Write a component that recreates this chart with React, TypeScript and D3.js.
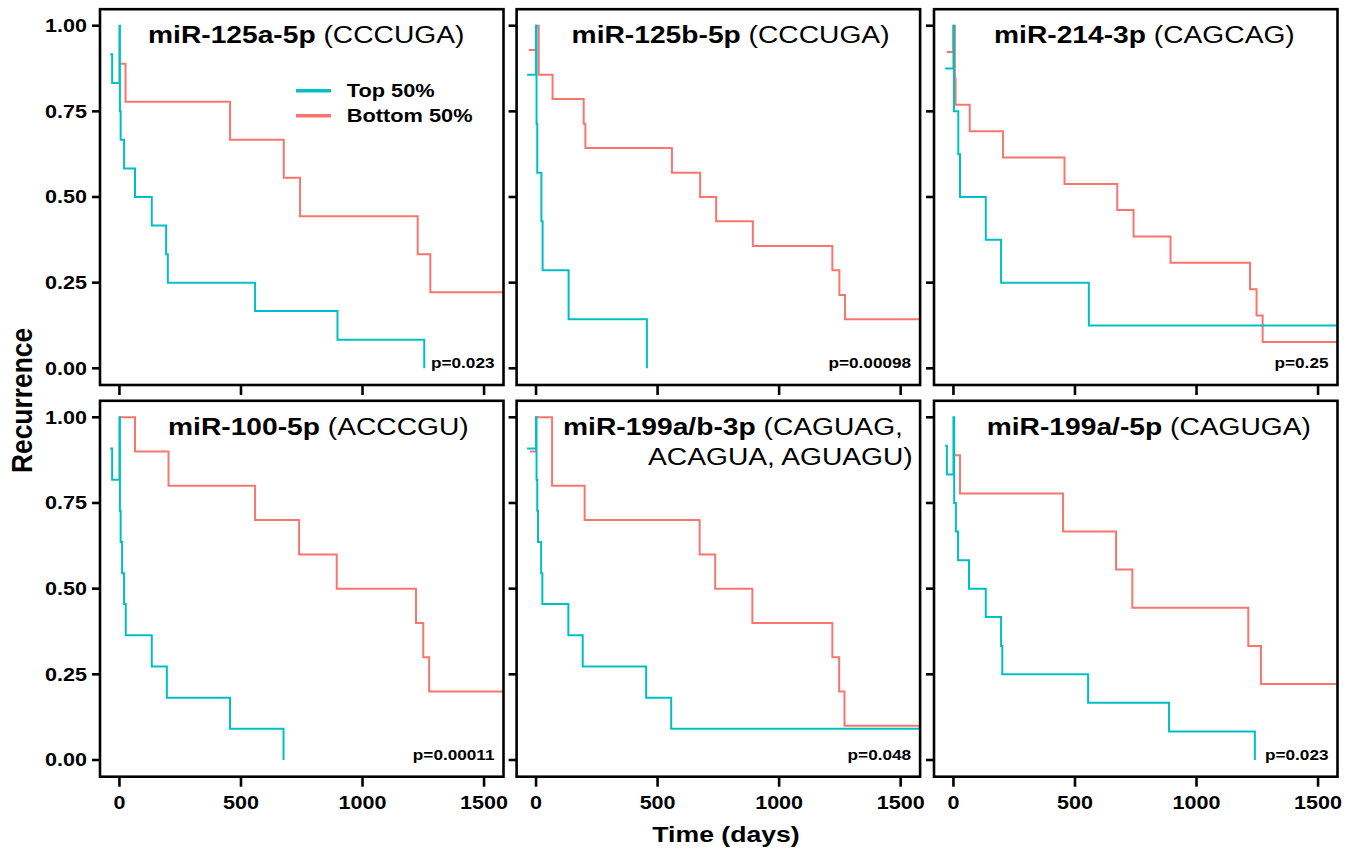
import React from 'react';
import * as d3 from 'd3';

// Kaplan-Meier style recurrence curves, one [day, recurrence] list per group
const top125a = [[-38, 0.917], [-30, 0.833], [0, 1], [2, 0.75], [5, 0.667], [19, 0.583], [64, 0.5], [133, 0.417], [192, 0.333], [199, 0.25], [558, 0.167], [897, 0.083], [1254, 0]];
const bottom125a = [[5, 0.889], [25, 0.778], [455, 0.667], [676, 0.556], [743, 0.444], [1227, 0.333], [1279, 0.222], [1600, 0.222]];

const top125b = [[-37, 0.857], [0, 1], [2, 0.714], [5, 0.571], [22, 0.429], [27, 0.286], [134, 0.143], [456, 0]];
const bottom125b = [[-30, 0.929], [0, 1], [11, 0.857], [68, 0.786], [196, 0.714], [203, 0.643], [559, 0.571], [675, 0.5], [741, 0.429], [892, 0.357], [1219, 0.286], [1248, 0.214], [1271, 0.143], [1600, 0.143]];

const top214 = [[-34, 0.875], [0, 1], [2, 0.75], [20, 0.625], [27, 0.5], [133, 0.375], [196, 0.25], [557, 0.125], [1600, 0.125]];
const bottom214 = [[-27, 0.923], [0, 1], [6, 0.846], [9, 0.769], [67, 0.692], [204, 0.615], [457, 0.538], [674, 0.462], [741, 0.385], [893, 0.308], [1220, 0.231], [1247, 0.154], [1272, 0.077], [1600, 0.077]];

const top100 = [[-38, 0.909], [-30, 0.818], [0, 1], [2, 0.727], [5, 0.636], [11, 0.545], [19, 0.455], [26, 0.364], [133, 0.273], [195, 0.182], [455, 0.091], [675, 0]];
const bottom100 = [[0, 1], [64, 0.9], [202, 0.8], [558, 0.7], [739, 0.6], [894, 0.5], [1220, 0.4], [1250, 0.3], [1274, 0.2], [1600, 0.2]];

const top199b = [[-37, 0.909], [0, 1], [2, 0.818], [5, 0.727], [8, 0.636], [21, 0.545], [26, 0.455], [133, 0.364], [192, 0.273], [453, 0.182], [556, 0.091], [1600, 0.091]];
const bottom199b = [[-25, 0.9], [0, 1], [66, 0.8], [200, 0.7], [673, 0.6], [737, 0.5], [890, 0.4], [1219, 0.3], [1247, 0.2], [1269, 0.1], [1600, 0.1]];

const top199a5 = [[-34, 0.917], [-27, 0.833], [0, 1], [3, 0.75], [10, 0.667], [19, 0.583], [64, 0.5], [133, 0.417], [196, 0.333], [201, 0.25], [554, 0.167], [887, 0.083], [1240, 0]];
const bottom199a5 = [[3, 0.889], [27, 0.778], [451, 0.667], [669, 0.556], [736, 0.444], [1213, 0.333], [1265, 0.222], [1600, 0.222]];

const topSeries = [top125a, top125b, top214, top100, top199b, top199a5];
const bottomSeries = [bottom125a, bottom125b, bottom214, bottom100, bottom199b, bottom199a5];

const mirNames = ['miR-125a-5p', 'miR-125b-5p', 'miR-214-3p', 'miR-100-5p', 'miR-199a/b-3p', 'miR-199a/-5p'];
const seeds = ['(CCCUGA)', '(CCCUGA)', '(CAGCAG)', '(ACCCGU)', '(CAGUAG,', '(CAGUGA)'];
const seedsLine2 = ['', '', '', '', 'ACAGUA, AGUAGU)', ''];
const pValues = ['p=0.023', 'p=0.00098', 'p=0.25', 'p=0.00011', 'p=0.048', 'p=0.023'];
const groupNames = ['Top 50%', 'Bottom 50%'];
const xTicks = [0, 500, 1000, 1500];
const yTicks = [0, 0.25, 0.5, 0.75, 1];

const CYAN = '#00BFC4';
const RED = '#F8766D';
const FONT = '"Liberation Sans", Arial, Helvetica, sans-serif';
const SX = 1.21; // picture is stretched horizontally

const colLeft = [100, 516.6, 934];
const panelW = 403.5;
const rowTop = [9.2, 400.8];
const rowBottom = [385, 776.7];
const yZero = [368.3, 760];
const yOne = [25.7, 417.3];
const titleDx = [48, 55, 60, 68, 46.4, 52.7];

const SText = ({ x, y, size, weight = 'bold', anchor = 'start', children }: any) => (
  <g transform={`translate(${x},${y}) scale(${SX},1)`}>
    <text fontSize={size} fontWeight={weight} textAnchor={anchor} fill="#000" fontFamily={FONT}>{children}</text>
  </g>
);

const Panel = ({ i }: { i: number }) => {
  const col = i % 3;
  const row = Math.floor(i / 3);
  const left = colLeft[col];
  const right = left + panelW;
  const x = d3.scaleLinear().domain([-80, 1580]).range([left, right]);
  const y = d3.scaleLinear().domain([0, 1]).range([yZero[row], yOne[row]]);
  const line = d3.line<number[]>().x(d => x(d[0])).y(d => y(d[1])).curve(d3.curveStepAfter);
  const fmt = d3.format('.2f');
  const top = rowTop[row];
  const bottom = rowBottom[row];
  return (
    <g>
      <defs>
        <clipPath id={`clip${i}`}>
          <rect x={left} y={top} width={panelW} height={bottom - top} />
        </clipPath>
      </defs>
      <g clipPath={`url(#clip${i})`} fill="none" strokeWidth={2}>
        <path d={line(bottomSeries[i]) || ''} stroke={RED} />
        <path d={line(topSeries[i]) || ''} stroke={CYAN} />
      </g>
      <rect x={left} y={top} width={panelW} height={bottom - top} fill="none" stroke="#000" strokeWidth={2.6} />
      {yTicks.map(t => (
        <g key={t}>
          <line x1={left - 8} x2={left} y1={y(t)} y2={y(t)} stroke="#000" strokeWidth={2.6} />
          {col === 0 && <SText x={left - 13} y={y(t) + 6.4} size={17.8} anchor="end">{fmt(t)}</SText>}
        </g>
      ))}
      {xTicks.map(t => (
        <g key={t}>
          <line x1={x(t)} x2={x(t)} y1={bottom} y2={bottom + 10} stroke="#000" strokeWidth={2.6} />
          {row === 1 && <SText x={x(t)} y={bottom + 32.5} size={17.8} anchor="middle">{t}</SText>}
        </g>
      ))}
      <SText x={left + titleDx[i]} y={top + 34} size={23.3}>
        <tspan fontWeight="bold">{mirNames[i]}</tspan>
        <tspan fontWeight="normal">{' ' + seeds[i]}</tspan>
      </SText>
      {seedsLine2[i] && (
        <SText x={left + 131.4} y={top + 64.5} size={23.3} weight="normal">{seedsLine2[i]}</SText>
      )}
      <SText x={right - 9} y={bottom - 17} size={14.2} anchor="end">{pValues[i]}</SText>
      {i === 0 && groupNames.map((g, k) => (
        <g key={g}>
          <line x1={left + 196} x2={left + 231} y1={top + 81.5 + k * 25} y2={top + 81.5 + k * 25} stroke={k === 0 ? CYAN : RED} strokeWidth={3.4} />
          <SText x={left + 246.7} y={top + 81.5 + k * 25 + 6.5} size={18}>{g}</SText>
        </g>
      ))}
    </g>
  );
};

export default function App() {
  return (
    <svg width={1356} height={853} style={{ position: 'absolute', left: 0, top: 0, background: '#fff' }}>
      <rect width={1356} height={853} fill="#fff" />
      {mirNames.map((_, i) => <Panel key={i} i={i} />)}
      <g transform="translate(31.5,400.5) rotate(-90) scale(1.1,1.2)">
        <text fontSize={24} fontWeight="bold" textAnchor="middle" fontFamily={FONT}>Recurrence</text>
      </g>
      <SText x={726} y={841.5} size={22} anchor="middle">Time (days)</SText>
    </svg>
  );
}
